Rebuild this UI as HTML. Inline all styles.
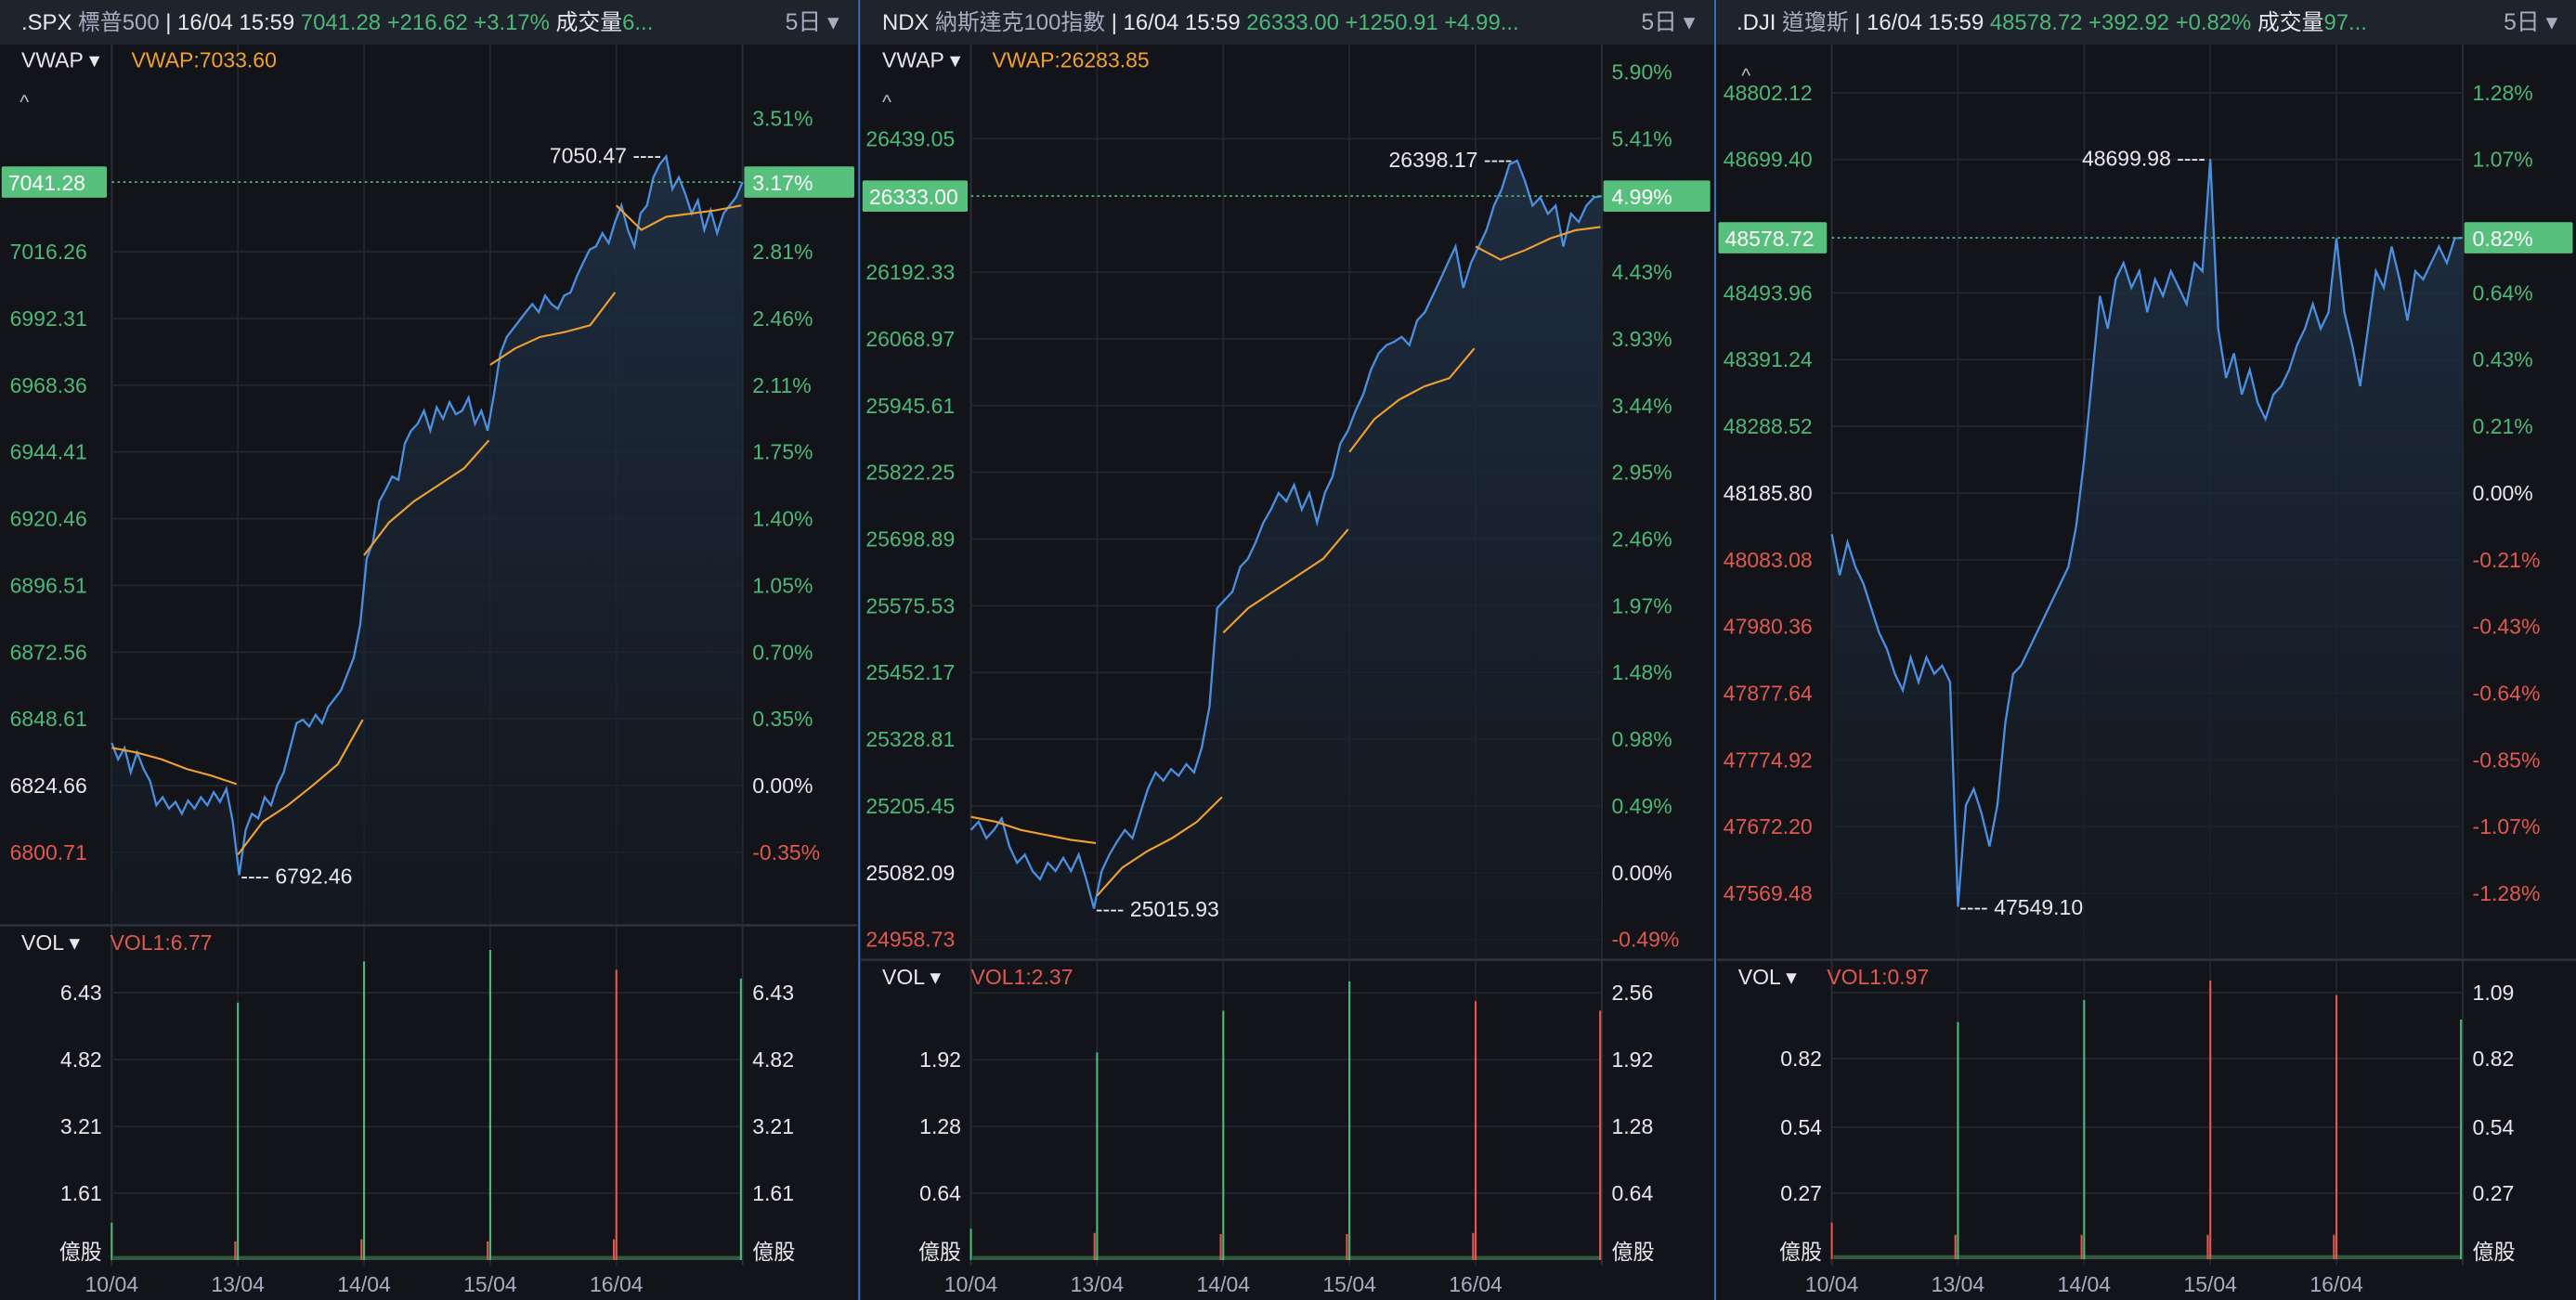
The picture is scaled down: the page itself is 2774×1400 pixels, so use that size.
<!DOCTYPE html>
<html><head><meta charset="utf-8"><style>
html,body{margin:0;padding:0;background:#121419;overflow:hidden}
svg{display:block}
text{font-family:"Liberation Sans","Noto Sans CJK TC",sans-serif}
</style></head><body>
<svg id="root" xmlns="http://www.w3.org/2000/svg" width="2774" height="1400" viewBox="0 0 1568 791" preserveAspectRatio="none">
<defs>
<linearGradient id="areaG" x1="0" y1="0" x2="0" y2="1"><stop offset="0" stop-color="#1f3044" stop-opacity="0.9"/><stop offset="1" stop-color="#151b24" stop-opacity="0.6"/></linearGradient>
</defs>
<rect x="0" y="0" width="1568" height="791" fill="#121419"/>
<g id="panels"></g>
</svg>
<script>
// ===== SPX data =====
const spxPrice = [6840.0,6834.1,6838.2,6829.4,6836.5,6830.6,6826.4,6817.6,6820.5,6816.4,6818.8,6814.6,6819.3,6816.4,6820.5,6817.6,6822.3,6818.8,6823.5,6811.7,6792.5,6808.7,6814.6,6812.9,6820.5,6817.6,6824.7,6829.4,6838.2,6847.1,6848.3,6845.9,6850.0,6847.1,6853.0,6855.9,6858.9,6864.8,6870.7,6882.5,6906.1,6912.0,6926.7,6930.9,6935.6,6934.4,6947.4,6952.1,6954.5,6959.2,6952.1,6960.4,6956.3,6962.2,6958.0,6959.2,6963.9,6954.5,6959.2,6952.1,6965.1,6979.8,6985.7,6988.7,6991.6,6994.6,6997.5,6994.6,7000.5,6997.5,6995.8,7000.5,7001.7,7007.6,7012.3,7017.0,7018.2,7022.9,7019.4,7027.0,7032.9,7024.1,7018.2,7030.0,7032.9,7043.0,7047.7,7050.5,7038.8,7043.0,7037.1,7030.0,7034.7,7024.1,7031.2,7022.9,7030.0,7032.9,7035.9,7041.28];
const spxVwap = [[6838.2,6836.5,6834.1,6830.6,6828.2,6825.2],[6799.9,6811.7,6817.6,6824.7,6832.3,6848.3],[6907.3,6919.1,6926.7,6932.6,6938.5,6948.6],[6975.7,6981.6,6985.7,6987.5,6989.9,7001.7],[7032.9,7024.1,7028.8,7030.0,7031.2,7032.9]];
const spxLeftTicks = [7016.26,6992.31,6968.36,6944.41,6920.46,6896.51,6872.56,6848.61,6824.66,6800.71];
const spxRightTicks = ["3.51%","2.81%","2.46%","2.11%","1.75%","1.40%","1.05%","0.70%","0.35%","0.00%","-0.35%"];
const spxRightTickVals = [7064.20,7016.26,6992.31,6968.36,6944.41,6920.46,6896.51,6872.56,6848.61,6824.66,6800.71];
const spxVolTicks = [6.43,4.82,3.21,1.61];
const spxSpikeT = [0,0.98,1,1.98,2,2.98,3,3.98,4,4.99];
const spxSpikeV = [0.9,0.45,6.19,0.5,7.18,0.45,7.46,0.5,6.98,6.77];
const spxSpikeUp = [1,0,1,0,1,0,1,0,0,1];

// ===== NDX data =====
const ndxPrice = [25161.1,25176.3,25145.9,25161.1,25182.4,25130.7,25100.3,25115.5,25085.1,25069.9,25100.3,25085.1,25109.4,25085.1,25115.5,25069.9,25015.9,25085.1,25115.5,25139.8,25161.1,25145.9,25191.5,25237.0,25267.4,25252.2,25273.5,25261.3,25282.6,25267.4,25313.0,25388.9,25571.2,25586.4,25601.6,25647.2,25662.4,25692.7,25729.2,25753.5,25783.9,25768.7,25799.1,25753.5,25783.9,25729.2,25783.9,25814.3,25875.0,25899.3,25935.8,25966.2,26011.7,26042.1,26057.3,26063.4,26072.5,26057.3,26102.9,26118.1,26148.4,26178.8,26209.2,26239.6,26163.6,26209.2,26239.6,26270.0,26315.5,26345.9,26391.5,26398.2,26361.1,26315.5,26330.7,26300.3,26315.5,26239.6,26300.3,26285.1,26315.5,26330.7,26333.0];
const ndxVwap = [[25185.4,25176.3,25161.1,25152.0,25142.9,25136.8],[25039.6,25091.2,25121.6,25145.9,25176.3,25221.8],[25525.6,25571.2,25601.6,25631.9,25662.4,25717.0],[25859.8,25920.6,25957.0,25981.3,25996.5,26051.2],[26239.6,26215.4,26233.5,26254.8,26269.9,26276.0]];
const ndxLeftTicks = [26439.05,26192.33,26068.97,25945.61,25822.25,25698.89,25575.53,25452.17,25328.81,25205.45,25082.09,24958.73];
const ndxRightTicks = ["5.90%","5.41%","4.43%","3.93%","3.44%","2.95%","2.46%","1.97%","1.48%","0.98%","0.49%","0.00%","-0.49%"];
const ndxRightTickVals = [26562.41,26439.05,26192.33,26068.97,25945.61,25822.25,25698.89,25575.53,25452.17,25328.81,25205.45,25082.09,24958.73];
const ndxVolTicks = [2.56,1.92,1.28,0.64];
const ndxSpikeT = [0,0.98,1,1.98,2,2.98,3,3.98,4,4.99];
const ndxSpikeV = [0.3,0.26,1.99,0.25,2.39,0.25,2.67,0.26,2.48,2.39];
const ndxSpikeUp = [1,0,1,0,1,0,1,0,0,0];

// ===== DJI data =====
const djiPrice = [48122.5,48059.3,48109.9,48071.9,48046.6,48008.7,47970.7,47945.4,47907.5,47882.2,47932.8,47894.8,47932.8,47907.5,47920.1,47894.8,47549.1,47705.1,47730.4,47692.4,47641.8,47705.1,47831.6,47907.5,47920.1,47945.4,47970.7,47996.0,48021.3,48046.6,48071.9,48135.2,48236.4,48362.9,48489.4,48438.8,48514.7,48540.0,48502.1,48527.4,48464.1,48514.7,48489.4,48527.4,48502.1,48476.8,48540.0,48527.4,48699.98,48438.8,48362.9,48400.9,48337.6,48375.6,48325.0,48299.7,48337.6,48350.3,48375.6,48413.5,48438.8,48476.8,48438.8,48464.1,48578.0,48464.1,48413.5,48350.3,48438.8,48527.4,48502.1,48565.3,48514.7,48451.5,48527.4,48514.7,48540.0,48565.3,48540.0,48578.0,48578.72];
const djiLeftTicks = [48802.12,48699.40,48493.96,48391.24,48288.52,48185.80,48083.08,47980.36,47877.64,47774.92,47672.20,47569.48];
const djiRightTicks = ["1.28%","1.07%","0.64%","0.43%","0.21%","0.00%","-0.21%","-0.43%","-0.64%","-0.85%","-1.07%","-1.28%"];
const djiRightTickVals = [48802.12,48699.40,48493.96,48391.24,48288.52,48185.80,48083.08,47980.36,47877.64,47774.92,47672.20,47569.48];
const djiVolTicks = [1.09,0.82,0.54,0.27];
const djiSpikeT = [0,0.98,1,1.98,2,2.98,3,3.98,4,4.99];
const djiSpikeV = [0.15,0.1,0.97,0.1,1.06,0.1,1.14,0.1,1.08,0.98];
const djiSpikeUp = [0,0,1,0,1,0,0,0,0,1];

const dayLabels = ["10/04","13/04","14/04","15/04","16/04"];

const NS="http://www.w3.org/2000/svg";
const root=document.getElementById('panels');
function mk(tag,attrs,parent,txt){const e=document.createElementNS(NS,tag);for(const k in attrs)e.setAttribute(k,attrs[k]);if(txt!==undefined)e.textContent=txt;(parent||root).appendChild(e);return e;}
const GREEN="#4cb878",RED="#e0584f",WHITE="#e8e8ec",ORANGE="#f0a030",BLUE="#4a8fe0",GRID="#22262e";

function panel(c){
  const g=mk('g',{});
  
  
  const hb=mk('rect',{x:c.x0,y:0,width:c.w,height:27,fill:'#1f232c'},g);
  
  
  const ht=mk('text',{x:c.x0+c.hx,y:18,'font-size':13.5,fill:WHITE},g);
  
  
  c.header.forEach(p=>{mk('tspan',{fill:p[1]},ht,p[0]);});
  const per=mk('text',{x:c.x0+c.w-44,y:18,'font-size':14,fill:'#a9acc0'},g,'5日 ▾');
  
  
  const X0=c.px0,X1=c.px0+384,dayW=76.8;
  const xs=t=>X0+t*dayW;
  const ys=v=>c.yRef-(v-c.vRef)*c.pxPer;
  const vy=v=>c.volZero-v*c.volPer;
  for(let d=0;d<=5;d++){const l=mk('line',{x1:xs(d),x2:xs(d),y1:27,y2:770,stroke:GRID,'stroke-width':1},g);
    }
  mk('line',{x1:X0,x2:X0,y1:27,y2:770,stroke:'#2a2e37'},g);
  mk('line',{x1:X1,x2:X1,y1:27,y2:770,stroke:'#2a2e37'},g);
  c.left.forEach((v,i)=>{
    const y=ys(v);
    mk('line',{x1:X0,x2:X1,y1:y,y2:y,stroke:GRID},g);
    const col=Math.abs(v-c.vRef)<0.01?WHITE:(v>c.vRef?GREEN:RED);
    const t=mk('text',{x:c.x0+c.lx,y:y+4.5,'font-size':13,fill:col},g,v.toFixed(2));
    
  });
  c.rightV.forEach((v,i)=>{
    const y=ys(v);const lab=c.right[i];
    const col=lab==="0.00%"?WHITE:(lab[0]==='-'?RED:GREEN);
    const t=mk('text',{x:X1+6,y:y+4.5,'font-size':13,fill:col},g,lab);
    
  });
  const n=c.price.length;
  const pts=c.price.map((v,i)=>[xs(i/(n-1)*5),ys(v)]);
  const d='M'+pts.map(p=>p[0].toFixed(1)+','+p[1].toFixed(1)).join('L');
  const area=mk('path',{d:d+`L${X1},${c.priceBottom}L${X0},${c.priceBottom}Z`,fill:'url(#areaG)'},g);
  
  const line=mk('path',{d:d,fill:'none',stroke:BLUE,'stroke-width':1.3},g);
  
  if(c.vwap){c.vwap.forEach((arr,di)=>{
    const dd='M'+arr.map((v,k)=>xs(di+k/5*0.99).toFixed(1)+','+ys(v).toFixed(1)).join('L');
    const vl=mk('path',{d:dd,fill:'none',stroke:ORANGE,'stroke-width':1.2},g);
    
  });}
  const last=c.price[n-1],ly=ys(last);
  mk('line',{x1:X0,x2:X1,y1:ly,y2:ly,stroke:GREEN,'stroke-dasharray':'1.5,2','stroke-width':1},g);
  const lb=mk('rect',{x:c.x0+1,y:ly-9.5,width:c.badgeW,height:19,fill:'#56c07c',rx:1},g);
  
  mk('text',{x:c.x0+5,y:ly+5,'font-size':13,fill:'#fff'},g,last.toFixed(2));
  const rb=mk('rect',{x:X1+1,y:ly-9.5,width:c.x0+c.w-X1-3,height:19,fill:'#56c07c',rx:1},g);
  
  mk('text',{x:X1+6,y:ly+5,'font-size':13,fill:'#fff'},g,c.lastPct);
  let hi=0,lo=0;c.price.forEach((v,i)=>{if(v>c.price[hi])hi=i;if(v<c.price[lo])lo=i;});
  const hx=xs(hi/(n-1)*5),hy=ys(c.price[hi]);
  const ha=mk('text',{x:hx-3,y:hy+4,'font-size':13,fill:WHITE,'text-anchor':'end'},g,c.hiLabel+' ----');
  
  const lx=xs(lo/(n-1)*5),lyy=ys(c.price[lo]);
  const la=mk('text',{x:lx+1,y:lyy+5,'font-size':13,fill:WHITE},g,'---- '+c.loLabel);
  
  if(c.vwapLabel){
    const a=mk('text',{x:c.x0+13,y:41,'font-size':13,fill:WHITE},g,'VWAP ▾');
    
    const b=mk('text',{x:c.x0+80,y:41,'font-size':13,fill:ORANGE},g,c.vwapLabel);
    
  }
  const car=mk('text',{x:c.x0+c.caretX,y:c.caretY,'font-size':12,fill:'#bbb'},g,'^');
  
  const dv=mk('line',{x1:c.x0,x2:c.x0+c.w,y1:c.divY,y2:c.divY,stroke:'#2c3038','stroke-width':1.5},g);
  
  mk('rect',{x:X0,y:c.divY+1,width:384,height:770-c.divY-1,fill:'#121419'},g);
  for(let d2=0;d2<=5;d2++)mk('line',{x1:xs(d2),x2:xs(d2),y1:c.divY+1,y2:770,stroke:GRID},g);
  mk('line',{x1:X0,x2:X0,y1:c.divY,y2:770,stroke:'#2a2e37'},g);
  mk('line',{x1:X1,x2:X1,y1:c.divY,y2:770,stroke:'#2a2e37'},g);
  const vl1=mk('text',{x:c.x0+13,y:c.divY+15,'font-size':13,fill:WHITE},g,'VOL ▾');
  
  const vl2=mk('text',{x:c.x0+67,y:c.divY+15,'font-size':13,fill:RED},g,c.volLabel);
  
  c.volTicks.forEach((v,i)=>{const y=vy(v);
    mk('line',{x1:X0,x2:X1,y1:y,y2:y,stroke:GRID},g);
    if(!(i===0&&c.skipTopLeftVol)){
      const t1=mk('text',{x:X0-6,y:y+4.5,'font-size':13,fill:WHITE,'text-anchor':'end'},g,v.toFixed(2));
      
    }
    const t2=mk('text',{x:X1+6,y:y+4.5,'font-size':13,fill:WHITE},g,v.toFixed(2));
    
  });
  mk('text',{x:X0-6,y:766,'font-size':13,fill:WHITE,'text-anchor':'end'},g,'億股');
  mk('text',{x:X1+6,y:766,'font-size':13,fill:WHITE},g,'億股');
  const bb=mk('rect',{x:X0+1,y:c.volZero-2.5,width:382,height:2.5,fill:'#3a6b4a',opacity:0.8},g);
  
  c.spT.forEach((t,i)=>{
    const x=Math.min(xs(t),X1-1);
    const s=mk('line',{x1:x,x2:x,y1:c.volZero,y2:vy(c.spV[i]),stroke:c.spU[i]?GREEN:RED,'stroke-width':1.2},g);
    
  });
  dayLabels.forEach((l,i)=>{const t=mk('text',{x:xs(i),y:786,'font-size':13,fill:'#a9acc0','text-anchor':'middle'},g,l);
    });
}

panel({name:'spx',x0:0,w:522,hx:13,px0:68,yRef:478,vRef:6824.66,pxPer:40.6/23.95,priceBottom:563,
  header:[['.SPX  ',WHITE],['標普500  ','#a9acc0'],['| 16/04 15:59 ',WHITE],['7041.28 +216.62 +3.17% ',GREEN],['成交量',WHITE],['6...',GREEN]],
  left:spxLeftTicks,lx:6,right:spxRightTicks,rightV:spxRightTickVals,price:spxPrice,vwap:spxVwap,vwapLabel:'VWAP:7033.60',
  lastPct:'3.17%',badgeW:64,hiLabel:'7050.47',loLabel:'6792.46',caretX:12,caretY:66,divY:563,volLabel:'VOL1:6.77',
  volTicks:spxVolTicks,volZero:766.7,volPer:25.3,spT:spxSpikeT,spV:spxSpikeV,spU:spxSpikeUp,skipTopLeftVol:false});
panel({name:'ndx',x0:524,w:519,hx:13,px0:591,yRef:531,vRef:25082.09,pxPer:40.6/123.36,priceBottom:584,
  header:[['NDX  ',WHITE],['納斯達克100指數 ','#a9acc0'],['| 16/04 15:59 ',WHITE],['26333.00 +1250.91 +4.99...',GREEN]],
  left:ndxLeftTicks,lx:3,right:ndxRightTicks,rightV:ndxRightTickVals,price:ndxPrice,vwap:ndxVwap,vwapLabel:'VWAP:26283.85',
  lastPct:'4.99%',badgeW:64,hiLabel:'26398.17',loLabel:'25015.93',caretX:13,caretY:66,divY:584,volLabel:'VOL1:2.37',
  volTicks:ndxVolTicks,volZero:766.7,volPer:63.5,spT:ndxSpikeT,spV:ndxSpikeV,spU:ndxSpikeUp,skipTopLeftVol:true});
panel({name:'dji',x0:1045,w:523,hx:12,px0:1115,yRef:300,vRef:48185.80,pxPer:40.6/102.72,priceBottom:584,
  header:[['.DJI  ',WHITE],['道瓊斯 ','#a9acc0'],['| 16/04 15:59 ',WHITE],['48578.72 +392.92 +0.82% ',GREEN],['成交量',WHITE],['97...',GREEN]],
  left:djiLeftTicks,lx:4,right:djiRightTicks,rightV:djiRightTickVals,price:djiPrice,vwap:null,vwapLabel:null,
  lastPct:'0.82%',badgeW:66,hiLabel:'48699.98',loLabel:'47549.10',caretX:15,caretY:50,divY:584,volLabel:'VOL1:0.97',
  volTicks:djiVolTicks,volZero:766.2,volPer:148.8,spT:djiSpikeT,spV:djiSpikeV,spU:djiSpikeUp,skipTopLeftVol:true});
[523,1044].forEach(x=>{const l=mk('line',{x1:x,x2:x,y1:0,y2:791,stroke:'#3b6db8','stroke-width':1.2});
  });
</script>
</body></html>
